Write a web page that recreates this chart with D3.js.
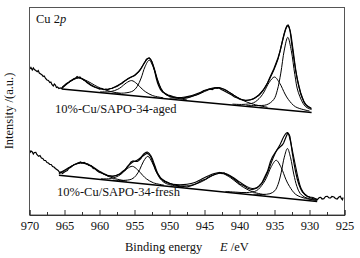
<!DOCTYPE html>
<html>
<head>
<meta charset="utf-8">
<script src="https://cdn.jsdelivr.net/npm/d3@7"></script>
<style>
  body { margin: 0; background: #fff; }
  svg { display: block; font-family: "Liberation Serif", "Times New Roman", serif; }
</style>
</head>
<body>
<svg id="xps" width="360" height="258"></svg>
<script>
// binding energy ticks (eV)
const majorTicks = [970, 965, 960, 955, 950, 945, 940, 935, 930, 925];
const minorTicks = [967.5, 962.5, 957.5, 952.5, 947.5, 942.5, 937.5, 932.5, 927.5];

// ---- 10%-Cu/SAPO-34-aged : [eV, intensity a.u.] ----
const agedRaw = [
  [969.95,146],[969.8,147.5],[969.6,145],[969.45,147],[969.3,145.5],[969.1,144.5],[968.9,143.3],[968.75,144.5],
  [968.6,142],[968.4,141],[968.2,140],[968.05,138.5],[967.9,139],[967.7,136.5],[967.5,135],[967.3,134.5],
  [967.1,132.5],[966.95,133],[966.8,130.5],[966.6,129],[966.45,131],[966.3,130],[966.15,127.5],[966.0,128],
  [965.8,126.5],[965.6,127],[965.4,126.5],[965.2,128.5],[965.0,129.5],[964.8,131],[964.6,132],[964.4,132.5],
  [964.2,134],[964.0,134.5],[963.8,135.5],[963.6,136.5],[963.4,137],[963.2,138.5],[963.0,137.5],[962.8,138],
  [962.6,136.5],[962.4,136],[962.2,134.5],[962.0,134],[961.8,132.5],[961.5,131],[961.2,129.5],[960.9,128.5],
  [960.6,127.5],[960.3,127],[960.0,126],[959.7,126.5],[959.4,125.5],[959.1,126],[958.8,125.5],[958.5,126.5],
  [958.2,126.5],[958.0,127.5],[957.7,128],[957.4,129],[957.1,130.5],[956.8,131.5],[956.5,133.5],[956.2,135],
  [955.9,136.5],[955.6,137.5],[955.3,138.5],[955.0,139.5],[954.7,141.5],[954.4,143.5],[954.1,146],[953.8,149.5],
  [953.5,153],[953.3,155.5],[953.1,156.5],[952.9,157],[952.7,155.5],[952.5,153],[952.3,148.5],[952.1,143.5],
  [951.9,137],[951.7,132],[951.5,128.5],[951.3,125.5],[951.0,123],[950.6,121.5],[950.2,120],[949.9,119.5],
  [949.5,118.5],[949.0,117.5],[948.5,117],[948.0,116.5],[947.5,117],[947.0,118],[946.5,119.5],[946.0,120.5],
  [945.5,122.5],[945.1,124.5],[944.7,125],[944.3,126],[943.9,125.5],[943.5,127],[943.2,126.5],[942.9,127],
  [942.6,125.5],[942.3,124.5],[941.9,123],[941.5,121.5],[941.1,120],[940.7,118],[940.3,117],[939.9,115.5],
  [939.5,115],[939.1,114.5],[938.7,115],[938.3,115.5],[937.9,116.5],[937.5,118.5],[937.2,120],[936.9,122.5],
  [936.6,125],[936.3,128.5],[936.0,132],[935.7,137],[935.4,141.5],[935.1,146],[934.8,151.5],[934.5,157],
  [934.2,164],[933.9,173],[933.6,181],[933.4,186.5],[933.2,189.5],[933.05,190],[932.9,188],[932.75,183],
  [932.5,169],[932.25,157],[932.0,145],[931.75,136],[931.5,128.5],[931.25,122],[931.0,117],[930.8,113],
  [930.6,110.5],[930.3,108.5],[930.0,107.5],[929.8,106.5]
];
const agedFit = [
  [965.4,126.5],[964.5,132],[963.7,136],[963.0,137.5],[962.2,135],[961.3,130.5],[960.3,127],[959.3,125.5],
  [958.3,126.5],[957.4,129.5],[956.5,133.5],[955.6,137.5],[954.9,140],[954.3,144],[953.7,151],[953.2,156],
  [952.9,157],[952.6,154.5],[952.2,147],[951.7,135],[951.2,126],[950.6,121],[949.8,118.5],[948.8,117.5],
  [947.8,118],[946.8,119.5],[945.8,122],[944.8,125],[943.8,127],[943.0,127.5],[942.1,125.5],[941.2,121.5],
  [940.3,117.5],[939.4,115],[938.5,115],[937.7,117.5],[937.0,121.5],[936.3,128],[935.7,136],[935.1,145],
  [934.5,156],[934.0,170],[933.5,184],[933.1,189],[932.8,185],[932.4,168],[932.0,147],[931.6,131],
  [931.1,118],[930.5,110.5],[929.7,106.5]
];
const agedBg = [[965.4,126],[929.7,102.5]];
const agedPeak933 = [[929.7,105.4],[930.6,108.6],[931.6,122.7],[932.1,140.6],[932.6,164.3],[933.1,177.7],[933.6,165],
  [934.1,141.9],[934.6,124.7],[935.1,115.6],[936.1,110.3],[937.6,109.5],[939.0,109.4]];
const agedPeak935 = [[930.0,104.0],[932.0,108.2],[933.0,115.3],[933.5,121],[934.25,131.7],[935.0,138],[935.75,132.7],
  [936.5,123],[937.0,117.9],[938.0,112.2],[939.5,110.6],[941.0,110.9]];
const agedSat943 = [[936,107.7],[938,110.7],[939.5,114.6],[940.5,118.5],[941.6,123.3],[943,127.3],[944.4,125.2],
  [945.5,121.8],[946.5,119.2],[948,117.2],[950,117.0]];
const agedPeak953 = [[947.5,115.0],[949.9,118.4],[950.6,121.1],[951.2,126.4],[951.75,135.5],[952.3,147.4],[952.9,154.8],
  [953.5,148.2],[954.05,137],[954.6,128.7],[955.2,124.1],[956.4,122],[957.9,122]];
const agedPeak955 = [[950.9,117.2],[952.4,119.4],[953.4,123.1],[953.9,125.9],[954.65,131.2],[955.4,134.4],[956.15,132.2],
  [956.9,127.9],[957.4,125.7],[958.4,123.4],[959.9,123.2]];
const agedSat963 = [[957,121.5],[958.5,123.6],[959.8,126.7],[960.7,129.8],[961.7,133.8],[963,136.9],[964.3,133],[965.4,127.5]];

// ---- 10%-Cu/SAPO-34-fresh ----
const freshRaw = [
  [969.95,62],[969.8,64],[969.6,63],[969.45,61],[969.3,62.5],[969.1,62.7],[968.95,60.5],[968.7,58.7],
  [968.5,59.5],[968.3,57],[968.1,56.5],[967.9,54.5],[967.7,54.5],[967.5,52.5],[967.3,52],[967.1,50.5],
  [966.9,50.5],[966.7,48.5],[966.5,48],[966.3,46.5],[966.1,45.5],[965.9,44.5],[965.7,42.5],[965.5,43],
  [965.3,41.5],[965.1,42.5],[964.9,43.5],[964.6,44.5],[964.4,46.5],[964.1,47.7],[963.9,49],[963.6,50.5],
  [963.4,51],[963.1,52],[962.9,52.5],[962.7,53],[962.5,52],[962.2,52.5],[962.0,51.5],[961.7,51],
  [961.5,49.5],[961.2,49.5],[960.9,46.5],[960.6,46],[960.3,44],[960.0,42.5],[959.7,42],[959.4,41],
  [959.1,40.5],[958.8,39],[958.5,39],[958.2,38.5],[957.9,39],[957.6,39.5],[957.3,40.5],[957.0,41],
  [956.7,43.5],[956.4,44.5],[956.1,47.5],[955.8,50],[955.5,53],[955.2,54],[954.9,53.5],[954.6,53.5],
  [954.4,54.5],[954.1,56.5],[953.9,58.5],[953.6,60],[953.4,61],[953.2,61.5],[953.0,61],[952.8,59.5],
  [952.6,57],[952.4,53],[952.2,49.5],[952.0,45.5],[951.8,42.5],[951.5,39.5],[951.3,37],[951.0,35.5],
  [950.6,33.7],[950.2,32.5],[949.9,31.3],[949.5,30.5],[949.0,29.7],[948.5,29],[948.0,28.5],[947.5,28],
  [947.0,29],[946.5,30.3],[946.0,32],[945.6,33.7],[945.2,35],[944.8,36],[944.5,37.5],[944.1,39],
  [943.7,40.3],[943.4,41],[943.1,41.5],[942.8,42.5],[942.5,41.5],[942.2,42],[941.8,40.3],[941.4,39],
  [941.0,37],[940.7,35.5],[940.4,34],[940.0,31],[939.6,30],[939.2,28.5],[938.9,27],[938.5,26],
  [938.2,25.3],[937.9,26],[937.5,27],[937.2,29],[936.8,32],[936.4,38],[936.0,43.7],[935.6,53],
  [935.3,58],[935.1,60.3],[934.9,62.5],[934.6,65.3],[934.3,67.5],[934.1,68.7],[933.9,70],[933.7,72],
  [933.5,75.5],[933.3,79],[933.1,82],[932.95,81],[932.8,78.7],[932.65,72],[932.5,64],[932.25,53],
  [932.0,43.7],[931.75,36],[931.5,30.3],[931.25,26],[931.0,23],[930.7,21],[930.3,18.7],[929.9,18],
  [929.5,17.5],[929.2,16.5],[928.9,15.3],[928.6,17.5],[928.4,17.7],[928.2,16],[927.95,16.3],[927.7,18.5],
  [927.45,18.7],[927.2,17],[927.0,17],[926.8,18.5],[926.5,18],[926.3,16.5],[926.05,16],[925.8,18],
  [925.6,18.7],[925.45,16.5],[925.3,15.3],[925.2,17.5]
];
const freshFit = [
  [965.8,41.5],[965.0,44.8],[964.2,48],[963.3,51.3],[962.5,52.5],[961.6,50.8],[960.7,47],[959.8,43],
  [958.9,39.8],[958.0,39],[957.2,40.8],[956.5,44.5],[955.9,49],[955.3,52.7],[954.7,54.6],[954.1,57.5],
  [953.6,61.5],[953.1,62.8],[952.6,58.5],[952.1,49.5],[951.6,40.5],[951.0,35],[950.3,32.3],[949.5,30.8],
  [948.5,30.3],[947.5,30.8],[946.5,32.2],[945.5,35.5],[944.5,39],[943.6,41.5],[942.7,42.5],[941.8,41],
  [940.9,37.5],[940.0,33],[939.1,29],[938.2,26.5],[937.5,27.5],[936.9,31],[936.4,36.5],[935.8,46],
  [935.2,57],[934.7,64.5],[934.2,70.5],[933.7,78],[933.3,82],[933.1,82.3],[932.8,76],[932.4,63],
  [932.0,49],[931.6,36],[931.2,26.5],[930.6,20],[929.8,17],[928.9,15.6]
];
const freshBg = [[965.8,39.7],[928.9,13.5]];
const freshPeak933 = [[929.0,14.75],[929.55,15.5],[930.65,17.7],[931.35,21.7],[931.8,28.6],[932.25,40.9],[932.7,57.2],
  [933.15,66.5],[933.6,57.8],[934.05,42.2],[934.5,30.5],[934.95,24.3],[935.65,21.3],[936.75,20.6],[938.0,20.85]];
const freshPeak935 = [[928.9,14.6],[930.55,16.55],[931.95,20.5],[932.85,28.5],[933.35,35.2],[934.05,47.5],[934.75,54.7],
  [935.45,48.5],[936.15,37.2],[936.65,31.2],[937.55,24.4],[938.95,22.45],[940.6,22.9],[942.0,23.55]];
const freshSat943 = [[936.3,20.05],[938.1,23.1],[939.4,27.55],[940.3,31.9],[941.3,37.4],[942.6,41.7],[943.9,39.25],
  [944.9,35.2],[945.8,32.1],[947.1,29.5],[948.9,29.0]];
const freshPeak953 = [[948.0,27.7],[950.1,30.5],[950.8,32.7],[951.4,36.9],[951.95,43.9],[952.5,53],[953.1,58.7],
  [953.7,53.8],[954.25,45.5],[954.8,39.3],[955.4,35.9],[956.6,34.6],[958.1,34.9]];
const freshPeak955 = [[950.8,29.9],[952.3,32.2],[953.3,36.2],[953.8,39.45],[954.55,45.2],[955.3,48.7],[956.05,46.3],
  [956.8,41.55],[957.3,39.1],[958.3,36.5],[959.8,36.2]];
const freshSat962 = [[956.1,33.8],[957.9,36.6],[959.2,40.1],[960.1,43.65],[961.1,48.15],[962.4,51.8],[963.7,50],
  [964.7,45.5],[965.8,41]];

const spectra = [
  { name: '10%-Cu/SAPO-34-aged', raw: agedRaw, fit: agedFit, bg: agedBg,
    peaks: [agedPeak933, agedPeak935, agedSat943, agedPeak953, agedPeak955, agedSat963], label: [55, 112.5] },
  { name: '10%-Cu/SAPO-34-fresh', raw: freshRaw, fit: freshFit, bg: freshBg,
    peaks: [freshPeak933, freshPeak935, freshSat943, freshPeak953, freshPeak955, freshSat962], label: [57, 195.5] },
];

const svg = d3.select('#xps');
const x = d3.scaleLinear().domain([970, 925]).range([29.5, 344.5]);
const y = d3.scaleLinear().domain([0, 208]).range([215, 7]);

const rawLine = d3.line().x(d => x(d[0])).y(d => y(d[1]));
const smoothLine = d3.line()
  .x(d => x(d[0]))
  .y(d => y(d[1]))
  .curve(d3.curveCatmullRom.alpha(0.5));

const plot = svg.append('g');

spectra.forEach(s => {
  const g = plot.append('g').attr('fill', 'none').attr('stroke', '#000');

  g.append('path').attr('d', rawLine(s.bg)).attr('stroke-width', 1.6);

  g.selectAll('path.peak')
    .data(s.peaks)
    .enter()
    .append('path')
    .attr('class', 'peak')
    .attr('d', smoothLine)
    .attr('stroke-width', 1);

  g.append('path').attr('d', smoothLine(s.fit)).attr('stroke-width', 1.1);
  g.append('path').attr('d', rawLine(s.raw)).attr('stroke-width', 1.2);

  svg.append('text')
    .attr('x', s.label[0])
    .attr('y', s.label[1])
    .attr('font-size', 12.5)
    .attr('fill', '#111')
    .text(s.name);
});

// frame
svg.append('rect')
  .attr('x', x(970))
  .attr('y', y(208) + 0.5)
  .attr('width', x(925) - x(970))
  .attr('height', y(0) - y(208) - 0.5)
  .attr('fill', 'none')
  .attr('stroke', '#555')
  .attr('stroke-width', 1);

// x axis, ticks pointing inwards
const xAxis = d3.axisBottom(x)
  .tickValues(majorTicks)
  .tickSize(-5)
  .tickPadding(6)
  .tickFormat(d3.format('d'));

const axisG = svg.append('g')
  .attr('transform', `translate(0,${y(0)})`)
  .call(xAxis);
axisG.select('.domain').attr('stroke', '#333');
axisG.selectAll('.tick line').attr('stroke', '#333');
axisG.selectAll('text')
  .attr('font-family', '"Liberation Serif", "Times New Roman", serif')
  .attr('font-size', 12.4)
  .attr('fill', '#111');

svg.append('g')
  .attr('transform', `translate(0,${y(0)})`)
  .call(d3.axisBottom(x).tickValues(minorTicks).tickSize(-3).tickFormat(''))
  .call(g => g.select('.domain').remove())
  .selectAll('.tick line').attr('stroke', '#333');

// titles
const xTitle = svg.append('text')
  .attr('x', 125)
  .attr('y', 251)
  .attr('font-size', 12.5)
  .attr('fill', '#111');
xTitle.append('tspan').text('Binding energy');
xTitle.append('tspan').attr('x', 220).attr('font-style', 'italic').text('E');
xTitle.append('tspan').text(' /eV');

svg.append('text')
  .attr('transform', 'translate(12.5,111) rotate(-90)')
  .attr('text-anchor', 'middle')
  .attr('font-size', 12.5)
  .attr('fill', '#111')
  .text('Intensity /(a.u.)');

const cuLabel = svg.append('text')
  .attr('x', 36)
  .attr('y', 23)
  .attr('font-size', 12.5)
  .attr('fill', '#111');
cuLabel.append('tspan').text('Cu 2');
cuLabel.append('tspan').attr('font-style', 'italic').text('p');
</script>
</body>
</html>
